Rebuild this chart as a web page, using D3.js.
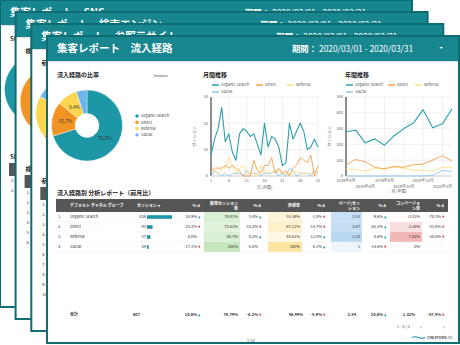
<!DOCTYPE html>
<html lang="ja">
<head>
<meta charset="UTF-8">
<meta name="viewport" content="width=device-width, initial-scale=1.0">
<title>集客レポート 流入経路</title>
<script src="https://d3js.org/d3.v7.min.js"></script>
<style>
  body { margin: 0; background: #fff; }
  svg { display: block; font-family: "Noto Sans CJK JP", "Noto Sans", sans-serif; }
</style>
</head>
<body>
<svg id="report" width="460" height="345"></svg>
<script>
// ---- data ----
var channels = ["Organic Search", "Direct", "Referral", "Social"];
var sessions = [426, 95, 57, 29];

var days = [1,2,3,4,5,6,7,8,9,10,11,12,13,14,15,16,17,18,19,20,21,22,23,24,25,26,27,28,29,30,31];
var dayTicks = [1, 6, 11, 16, 21, 26, 31];
var dayYTicks = [0, 10, 20, 30];
var organicDaily  = [8,14,18,26,13,16,9,6,16,18,17,15,16,12,8,20,11,15,14,11,4,5,20,14,17,20,17,10,11,14,11];
var directDaily   = [2,3,3,3,4,3,4,3,2,0,0,0,6,2,1,4,4,7,1,3,1,2,0,3,4,7,6,5,8,0,4];
var referralDaily = [2,2,1,3,3,7,4,1,3,4,1,1,1,0,4,1,2,1,2,2,1,1,1,1,2,1,1,1,1,0,2];
var socialDaily   = [0,2,1,0,1,0,1,1,1,0,2,1,1,1,0,1,1,1,2,0,1,0,3,2,0,1,1,1,0,2,1];

var months = ["2019年4月","2019年5月","2019年6月","2019年7月","2019年8月","2019年9月",
              "2019年10月","2019年11月","2019年12月","2020年1月","2020年2月","2020年3月"];
var monthTicks = ["2019年4月","2019年6月","2019年8月","2019年10月","2019年12月","2020年2月"];
var monthYTicks = [0, 100, 200, 300, 400, 500];
var organicMonthly  = [280,290,210,235,195,255,300,335,420,305,330,426];
var directMonthly   = [70,105,90,55,45,62,55,72,75,100,128,95];
var referralMonthly = [45,40,30,50,45,55,50,35,38,30,55,57];
var socialMonthly   = [0,0,0,0,0,0,0,0,0,5,35,29];

var sessionsDelta = ["24.9%", "-25.2%", "0.0%", "-17.1%"];
var newRate       = [79.81, 72.63, 80.7, 100];
var newDelta      = ["5.4%", "-10.2%", "4.3%", "0.0%"];
var bounceRate    = [55.39, 67.11, 45.61, 100];
var bounceDelta   = ["-1.8%", "-14.7%", "13.0%", "6.1%"];
var pagesPerSess  = [2.53, 2.67, 3.18, 1];
var ppsDelta      = ["9.6%", "65.2%", "4.6%", "-14.6%"];
var convRate      = [0.23, 3.16, 7.02, 0];
var convDelta     = ["-74.3%", "-55.4%", "-30.0%", "-"];
var totals        = ["607", "10.8%", "79.74%", "-0.2%", "58.44%", "-5.9%", "2.54", "10.8%", "1.32%", "-57.5%"];

var pageTitles    = ["集客レポート　SNS", "集客レポート　検索エンジン", "集客レポート　参照元サイト", "集客レポート　流入経路"];
var sectionTitles = ["SNSの比率", "検索エンジンの比率", "参照元サイトの比率", "流入経路の比率"];
var tableTitles   = ["SNS別 分析レポート（前月比）", "検索エンジン別 分析レポート（前月比）",
                     "参照元サイト別 分析レポート（前月比）", "流入経路別 分析レポート（前月比）"];
var backShares    = [[92, 5, 3, 0], [55, 35, 6, 4], [52, 12, 19, 17]];
var backRowCount  = [2, 6, 10];
var period = "2020/03/01 - 2020/03/31";

// ---- look ----
var pieColors  = ["#1d97a5", "#f29325", "#fdd54f", "#6db5eb"];
var lineColors = ["#2ba0ac", "#f6a04d", "#fddf7e", "#93c9f0"];
var headTeal = "#17868f", edge = "#0f6c73";
var upColor = "#1a9aa6", downColor = "#e53935";

var svg = d3.select("#report");
var pageW = 412, pageH = 307, headH = 25;
var offsets = [[0, 0], [15.6, 12], [31.3, 24], [47, 36]];

function drawPie(g, values, full) {
  var pie = d3.pie().sort(null).value(function (d) { return d; });
  var arc = d3.arc().innerRadius(12).outerRadius(35.5);
  var lab = d3.arc().innerRadius(22).outerRadius(22);
  var total = d3.sum(values);
  var pg = g.append("g").attr("transform", "translate(40,89.5)");
  var arcs = pie(values);
  pg.selectAll("path").data(arcs).enter().append("path")
    .attr("d", arc)
    .attr("fill", function (d, i) { return pieColors[i]; })
    .attr("stroke", "#fff").attr("stroke-width", 0.4);
  if (!full) return;
  pg.selectAll("text").data(arcs.filter(function (d) { return d.value / total >= 0.05; }))
    .enter().append("text")
    .attr("transform", function (d) { return "translate(" + lab.centroid(d) + ")"; })
    .attr("text-anchor", "middle").attr("dy", "0.35em")
    .attr("font-size", 5).attr("fill", "#333")
    .text(function (d) { return d3.format(".1%")(d.value / total); });
}

function tri(x, y, up) {
  return up ? "M" + x + "," + (y + 1.2) + "h2.4l-1.2,-2.4Z"
            : "M" + x + "," + (y - 1.2) + "h2.4l-1.2,2.4Z";
}

function delta(g, x, cy, s, bold) {
  g.append("text").attr("x", x).attr("y", cy + 1.4).attr("text-anchor", "end")
    .attr("font-weight", bold ? "bold" : null).text(s);
  if (s === "-" || s === "0.0%") return;
  var neg = s.charAt(0) === "-";
  g.append("path").attr("d", tri(x + 1, cy, !neg)).attr("fill", neg ? downColor : upColor);
}

function lineChart(g, opt) {
  var x = opt.x, y = opt.y;
  g.append("text").attr("x", opt.titleX).attr("y", 41).attr("font-size", 6)
    .attr("font-weight", "bold").attr("fill", "#222").text(opt.title);
  // legend
  var legY = [49, 49, 49, 56];
  legY.forEach(function (ly, i) {
    var lx = opt.legX[i];
    g.append("line").attr("x1", lx).attr("x2", lx + 7).attr("y1", ly).attr("y2", ly)
      .attr("stroke", lineColors[i]).attr("stroke-width", 1.5);
    g.append("text").attr("x", lx + 9).attr("y", ly + 1.4).attr("font-size", 4)
      .attr("fill", "#555").text(channels[i]);
  });
  var r = y.range(), xr = x.range();
  // grid
  g.selectAll(null).data(opt.yTicks).enter().append("line")
    .attr("x1", xr[0]).attr("x2", xr[1]).attr("y1", y).attr("y2", y)
    .attr("stroke", "#e6e6e6").attr("stroke-width", 0.6);
  g.selectAll(null).data(opt.xTicks).enter().append("line")
    .attr("x1", x).attr("x2", x).attr("y1", r[0]).attr("y2", r[1])
    .attr("stroke", "#e6e6e6").attr("stroke-width", 0.6);
  // y labels
  g.selectAll(null).data(opt.yTicks).enter().append("text")
    .attr("x", xr[0] - 3).attr("y", function (d) { return y(d) + 1.4; })
    .attr("text-anchor", "end").attr("font-size", 4).attr("fill", "#666").text(function (d) { return d; });
  g.append("text").attr("transform", "translate(" + (xr[0] - 15) + "," + ((r[0] + r[1]) / 2) + ") rotate(-90)")
    .attr("text-anchor", "middle").attr("font-size", 4).attr("fill", "#555").text("セッション");
  // x labels
  g.selectAll(null).data(opt.xTicks).enter().append("text")
    .attr("x", x).attr("y", function (d, i) { return r[0] + 6 + (opt.stagger && i % 2 ? 5.5 : 0); })
    .attr("text-anchor", "middle").attr("font-size", 4).attr("fill", "#666").text(function (d) { return d; });
  g.append("text").attr("x", (xr[0] + xr[1]) / 2).attr("y", r[0] + opt.xTitleDy)
    .attr("text-anchor", "middle").attr("font-size", 4).attr("fill", "#555").text(opt.xTitle);
  // axes lines
  g.append("line").attr("x1", xr[0]).attr("x2", xr[1]).attr("y1", r[0]).attr("y2", r[0])
    .attr("stroke", "#bbb").attr("stroke-width", 0.6);
  g.append("line").attr("x1", xr[0]).attr("x2", xr[0]).attr("y1", r[0]).attr("y2", r[1])
    .attr("stroke", "#555").attr("stroke-width", 1.3);
  // series (draw back to front: social first)
  for (var s = opt.series.length - 1; s >= 0; s--) {
    var line = d3.line()
      .x(function (d, i) { return x(opt.cats[i]); })
      .y(function (d) { return y(d); });
    g.append("path").datum(opt.series[s]).attr("d", line).attr("fill", "none")
      .attr("stroke", lineColors[s]).attr("stroke-width", s === 0 ? 1.1 : 0.9)
      .attr("stroke-linejoin", "round");
  }
}

function drawFront(g) {
  g.append("text").attr("x", 106).attr("y", 41).attr("font-size", 3.2).attr("fill", "#444").text("(Sessions)");
  // pie legend
  channels.forEach(function (c, i) {
    var ly = 80 + i * 6.3;
    g.append("circle").attr("cx", 90).attr("cy", ly).attr("r", 1.7).attr("fill", pieColors[i]);
    g.append("text").attr("x", 94).attr("y", ly + 1.4).attr("font-size", 4).attr("fill", "#444").text(c);
  });

  lineChart(g, {
    title: "月間推移", titleX: 156, legX: [165, 209, 240, 165], xTitleDy: 12.5,
    x: d3.scaleLinear().domain([1, 31]).range([164, 271]),
    y: d3.scaleLinear().domain([0, 30]).range([140, 61]),
    xTicks: dayTicks, yTicks: dayYTicks, cats: days, xTitle: "日 (月間)",
    series: [organicDaily, directDaily, referralDaily, socialDaily]
  });
  lineChart(g, {
    title: "年間推移", titleX: 298, legX: [299, 341, 368, 299], stagger: true, xTitleDy: 16.5,
    x: d3.scalePoint().domain(months).range([299, 405]),
    y: d3.scaleLinear().domain([0, 500]).range([140, 61]),
    xTicks: monthTicks, yTicks: monthYTicks, cats: months, xTitle: "月 (年間)",
    series: [organicMonthly, directMonthly, referralMonthly, socialMonthly]
  });

  // table header labels
  var hd = g.append("g").attr("fill", "#fff").attr("font-size", 4).attr("font-weight", "bold");
  hd.append("text").attr("x", 23).attr("y", 171).text("デフォルト チャネル グループ");
  hd.append("text").attr("x", 90).attr("y", 171).text("セッション ▾");
  [153, 214, 278, 339, 397].forEach(function (xx) {
    hd.append("text").attr("x", xx).attr("y", 171).attr("text-anchor", "end").text("% Δ");
  });
  var two = [[191, "新規セッション", "率"], [313, "ページ/セッ", "ション"], [373, "コンバージョ", "ン率"]];
  two.forEach(function (t) {
    hd.append("text").attr("x", t[0]).attr("y", 168.5).attr("text-anchor", "end").text(t[1]);
    hd.append("text").attr("x", t[0]).attr("y", 173.8).attr("text-anchor", "end").text(t[2]);
  });
  hd.append("text").attr("x", 253).attr("y", 171).attr("text-anchor", "end").text("直帰率");

  // heat scales
  var cNew = d3.scaleLinear().domain([60, 100]).range(["#edf8ea", "#c6e7be"]);
  var cBounce = d3.scaleLinear().domain([40, 100]).range(["#fffaea", "#fde4a0"]);
  var cPps = d3.scaleLinear().domain([1, 3.3]).range(["#eef5fc", "#b5d6f1"]);
  var cConv = d3.scaleLinear().domain([0, 8]).range(["#ffffff", "#f1adad"]);
  var bar = d3.scaleLinear().domain([0, d3.max(sessions)]).range([0, 25]);

  var tb = g.append("g").attr("font-size", 4).attr("fill", "#333");
  channels.forEach(function (c, i) {
    var cy = 181 + i * 10, top = cy - 5;
    tb.append("rect").attr("x", 157).attr("y", top).attr("width", 36).attr("height", 10).attr("fill", cNew(newRate[i]));
    tb.append("rect").attr("x", 221).attr("y", top).attr("width", 34).attr("height", 10).attr("fill", cBounce(bounceRate[i]));
    tb.append("rect").attr("x", 284).attr("y", top).attr("width", 31).attr("height", 10).attr("fill", cPps(pagesPerSess[i]));
    tb.append("rect").attr("x", 343).attr("y", top).attr("width", 32).attr("height", 10).attr("fill", cConv(convRate[i]));
    tb.append("line").attr("x1", 9).attr("x2", 401).attr("y1", top + 10).attr("y2", top + 10)
      .attr("stroke", "#ececec").attr("stroke-width", 0.5);
    tb.append("text").attr("x", 23).attr("y", cy + 1.4).text(c);
    tb.append("text").attr("x", 99).attr("y", cy + 1.4).attr("text-anchor", "end").text(sessions[i]);
    tb.append("rect").attr("x", 100).attr("y", cy - 1.8).attr("width", bar(sessions[i])).attr("height", 3.6).attr("fill", "#1d97a5");
    delta(tb, 150, cy, sessionsDelta[i]);
    tb.append("text").attr("x", 191).attr("y", cy + 1.4).attr("text-anchor", "end").text(newRate[i] + "%");
    delta(tb, 211, cy, newDelta[i]);
    tb.append("text").attr("x", 253).attr("y", cy + 1.4).attr("text-anchor", "end").text(bounceRate[i] + "%");
    delta(tb, 275, cy, bounceDelta[i]);
    tb.append("text").attr("x", 313).attr("y", cy + 1.4).attr("text-anchor", "end").text(pagesPerSess[i]);
    delta(tb, 336, cy, ppsDelta[i]);
    tb.append("text").attr("x", 373).attr("y", cy + 1.4).attr("text-anchor", "end").text(convRate[i] + "%");
    delta(tb, 394, cy, convDelta[i]);
  });

  // totals row
  var fy = 279;
  tb.append("text").attr("x", 23).attr("y", fy + 1.4).attr("font-weight", "bold").text("合計");
  var tx = [93, 150, 191, 211, 256, 275, 309, 336, 368, 394];
  totals.forEach(function (t, k) {
    if (k % 2 === 1) {
      delta(tb, tx[k], fy, t, true);
    } else {
      tb.append("text").attr("x", tx[k]).attr("y", fy + 1.4).attr("text-anchor", "end")
        .attr("font-weight", "bold").text(t);
    }
  });

  // pagination, logo, page number
  var ft = g.append("g").attr("fill", "#666");
  ft.append("text").attr("x", 363).attr("y", 292).attr("text-anchor", "end").attr("font-size", 4).text("1 - 4 / 4");
  ft.append("text").attr("x", 373).attr("y", 292.5).attr("font-size", 6).text("‹");
  ft.append("text").attr("x", 396).attr("y", 292.5).attr("font-size", 6).text("›");
  g.append("path").attr("d", "M365,301.5 q3,-1.6 6.5,0 t6.5,0").attr("fill", "none")
    .attr("stroke", "#1d97a5").attr("stroke-width", 1.1);
  var logo = g.append("text").attr("x", 380).attr("y", 302.8).attr("font-size", 3.8).attr("fill", "#555");
  logo.append("tspan").attr("font-weight", "bold").text("CREATORS");
  logo.append("tspan").text(" Inc.");
  ft.append("text").attr("x", 204).attr("y", 306).attr("text-anchor", "middle").attr("font-size", 3.8).text("2/18");
}

offsets.forEach(function (o, i) {
  var front = i === offsets.length - 1;
  var g = svg.append("g").attr("transform", "translate(" + o[0] + "," + o[1] + ")");
  g.append("rect").attr("width", pageW).attr("height", pageH).attr("fill", "#fff");
  g.append("rect").attr("width", pageW).attr("height", headH).attr("fill", headTeal);
  g.append("line").attr("x1", 0).attr("x2", pageW).attr("y1", headH + 0.5).attr("y2", headH + 0.5)
    .attr("stroke", "#d8d8d8").attr("stroke-width", 0.8);
  g.append("text").attr("x", 10).attr("y", 16).attr("fill", "#fff").attr("font-size", 10.5)
    .attr("font-weight", "bold").text(pageTitles[i]);
  var dt = g.append("text").attr("x", 245).attr("y", 15.5).attr("fill", "#fff").attr("font-size", 8.4);
  dt.append("tspan").attr("font-weight", "bold").text("期間：");
  dt.append("tspan").text(" " + period);
  g.append("path").attr("d", "M392.5,11h3.4l-1.7,2Z").attr("fill", "#fff");

  g.append("text").attr("x", 10).attr("y", 41).attr("font-size", 6).attr("font-weight", "bold")
    .attr("fill", "#222").text(sectionTitles[i]);
  drawPie(g, front ? sessions : backShares[i], front);

  g.append("text").attr("x", 10).attr("y", 159).attr("font-size", 6).attr("font-weight", "bold")
    .attr("fill", "#222").text(tableTitles[i]);
  g.append("rect").attr("x", 9).attr("y", 163).attr("width", 392).attr("height", 13).attr("fill", "#565656");
  var n = front ? channels.length : backRowCount[i];
  for (var r = 0; r < n; r++) {
    var cy = 181 + r * 10;
    g.append("text").attr("x", 11).attr("y", cy + 1.4).attr("font-size", 4).attr("fill", "#333").text((r + 1) + ".");
    if (!front) g.append("line").attr("x1", 9).attr("x2", 401).attr("y1", cy + 5).attr("y2", cy + 5)
      .attr("stroke", "#ececec").attr("stroke-width", 0.5);
  }
  if (front) drawFront(g);
  g.append("rect").attr("width", pageW).attr("height", pageH).attr("fill", "none")
    .attr("stroke", edge).attr("stroke-width", 2);
});
</script>
</body>
</html>
